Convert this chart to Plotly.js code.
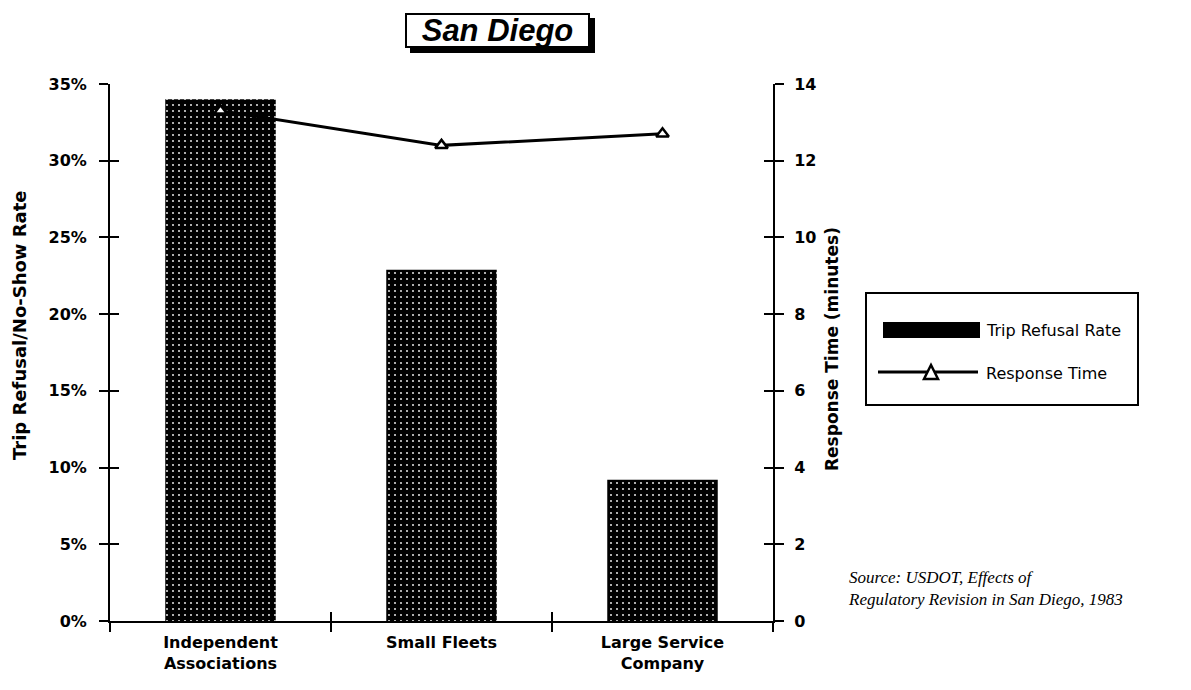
<!DOCTYPE html>
<html>
<head>
<meta charset="utf-8">
<script src="https://cdn.plot.ly/plotly-3.0.1.min.js"></script>
<style>html,body{margin:0;padding:0;background:#fff;}#chart{width:1191px;height:690px;}</style>
</head>
<body>
<div id="chart"></div>
<script>
const categories = ["Independent<br>Associations", "Small Fleets", "Large Service<br>Company"];
const refusalRate = [0.340, 0.229, 0.092];
const responseTime = [13.3, 12.4, 12.7];
const leftTickVals = [0, 0.05, 0.10, 0.15, 0.20, 0.25, 0.30, 0.35];
const rightTickVals = [0, 2, 4, 6, 8, 10, 12, 14];
const boundaryTicks = [-0.5, 0.5, 1.5, 2.5];
const seriesNames = ["Trip Refusal Rate", "Response Time"];

const F = "DejaVu Sans, Verdana, sans-serif";
const tickFont = {family: F, size: 16, color: "#000", weight: "bold"};

// plot area in pixels: x 110..773, y 84..621
const L = 110, R = 773, T = 84, B = 621;
const px = v => (v - L) / (R - L);
const py = v => (B - v) / (B - T);

const traces = [
  {
    type: "bar", name: seriesNames[0],
    x: categories, y: refusalRate, width: 0.5, showlegend: false,
    marker: {color: "#000", line: {width: 0},
      pattern: {shape: ".", fgcolor: "#fff", bgcolor: "#000", size: 6, solidity: 0.1, fillmode: "overlay", fgopacity: 0.85}}
  },
  {
    type: "scatter", mode: "lines+markers", name: seriesNames[1],
    x: categories, y: responseTime, yaxis: "y2", showlegend: false,
    line: {color: "#000", width: 3},
    marker: {symbol: "triangle-up", size: 11, color: "#fff", line: {color: "#000", width: 2.5}}
  },
  {type: "scatter", x: [], y: [], xaxis: "x2", yaxis: "y3", showlegend: false, hoverinfo: "skip"},
  {type: "scatter", x: [], y: [], xaxis: "x2", yaxis: "y4", showlegend: false, hoverinfo: "skip"}
];

const inTick = {ticks: "inside", ticklen: 9, tickwidth: 2, tickcolor: "#000", showticklabels: false,
  showline: false, showgrid: false, zeroline: false};

const layout = {
  width: 1191, height: 690,
  paper_bgcolor: "#fff", plot_bgcolor: "rgba(0,0,0,0)",
  margin: {l: L, r: 1191 - R, t: T, b: 690 - B},
  showlegend: false,
  bargap: 0.5,
  xaxis: {type: "category", range: [-0.5, 2.5], showline: true, linecolor: "#000", linewidth: 2,
    ticks: "outside", tickson: "boundaries", ticklen: 9, tickwidth: 2, tickcolor: "#000",
    tickfont: tickFont, ticklabelstandoff: 6, showgrid: false, zeroline: false},
  xaxis2: Object.assign({overlaying: "x", anchor: "y", range: [-0.5, 2.5], tickvals: boundaryTicks}, inTick),
  yaxis: {range: [0, 0.35], tickvals: leftTickVals, tickformat: ".0%",
    showline: true, linecolor: "#000", linewidth: 2, ticks: "outside", ticklen: 9, tickwidth: 2,
    tickcolor: "#000", tickfont: tickFont, ticklabelstandoff: 9, showgrid: false, zeroline: false},
  yaxis2: {overlaying: "y", side: "right", anchor: "x", range: [0, 14], tickvals: rightTickVals,
    showline: true, linecolor: "#000", linewidth: 2, ticks: "outside", ticklen: 9, tickwidth: 2,
    tickcolor: "#000", tickfont: tickFont, ticklabelstandoff: 7, showgrid: false, zeroline: false},
  yaxis3: Object.assign({overlaying: "y", side: "left", anchor: "x2", range: [0, 0.35], tickvals: leftTickVals}, inTick),
  yaxis4: Object.assign({overlaying: "y", side: "right", anchor: "x2", range: [0, 14], tickvals: rightTickVals}, inTick),
  shapes: [
    // legend frame
    {type: "rect", xref: "paper", yref: "paper", x0: px(866), x1: px(1138), y0: py(293), y1: py(405),
     line: {color: "#000", width: 2}, fillcolor: "#fff", layer: "above"},
    // legend swatch for bars
    {type: "rect", xref: "paper", yref: "paper", x0: px(883), x1: px(980), y0: py(322), y1: py(338),
     line: {width: 0}, fillcolor: "#000", layer: "above"},
    // legend line for response time
    {type: "line", xref: "paper", yref: "paper", x0: px(878), x1: px(978), y0: py(372), y1: py(372),
     line: {color: "#000", width: 3}, layer: "above"},
    {type: "path", xref: "paper", yref: "paper",
     path: `M ${px(924)} ${py(379)} L ${px(938)} ${py(379)} L ${px(931)} ${py(365)} Z`,
     line: {color: "#000", width: 2.5}, fillcolor: "#fff", layer: "above"}
  ],
  annotations: [
    {text: "", xref: "paper", yref: "paper", x: px(497), y: py(30), xanchor: "center", yanchor: "middle",
     xshift: 5, yshift: -5, width: 181, height: 31, showarrow: false,
     bgcolor: "#000", bordercolor: "#000", borderwidth: 2, borderpad: 0},
    {text: "San Diego", xref: "paper", yref: "paper", x: px(497), y: py(30), xanchor: "center", yanchor: "middle",
     width: 181, height: 31, showarrow: false,
     font: {family: "Liberation Sans, Arial, sans-serif", size: 31, color: "#000", weight: "bold", style: "italic"},
     bgcolor: "#fff", bordercolor: "#000", borderwidth: 2, borderpad: 0},
    {text: "Trip Refusal/No-Show Rate", xref: "paper", yref: "paper", x: px(19), y: py(325),
     xanchor: "center", yanchor: "middle", textangle: -90, showarrow: false,
     font: {family: F, size: 18, color: "#000", weight: "bold"}},
    {text: "Response Time (minutes)", xref: "paper", yref: "paper", x: px(832), y: py(349),
     xanchor: "center", yanchor: "middle", textangle: -90, showarrow: false,
     font: {family: F, size: 17, color: "#000", weight: "bold"}},
    {text: seriesNames[0], xref: "paper", yref: "paper", x: px(984), y: py(330),
     xanchor: "left", yanchor: "middle", showarrow: false,
     font: {family: F, size: 16, color: "#000"}},
    {text: seriesNames[1], xref: "paper", yref: "paper", x: px(984), y: py(373),
     xanchor: "left", yanchor: "middle", showarrow: false,
     font: {family: F, size: 16, color: "#000"}},
    {text: "Source: USDOT, Effects of<br>Regulatory Revision in San Diego, 1983", xref: "paper", yref: "paper",
     x: px(846), y: py(588), xanchor: "left", yanchor: "middle", align: "left", showarrow: false,
     font: {family: "Liberation Serif, Times New Roman, serif", size: 17, color: "#000", style: "italic"}}
  ]
};

Plotly.newPlot("chart", traces, layout, {displayModeBar: false, staticPlot: true});
</script>
</body>
</html>
